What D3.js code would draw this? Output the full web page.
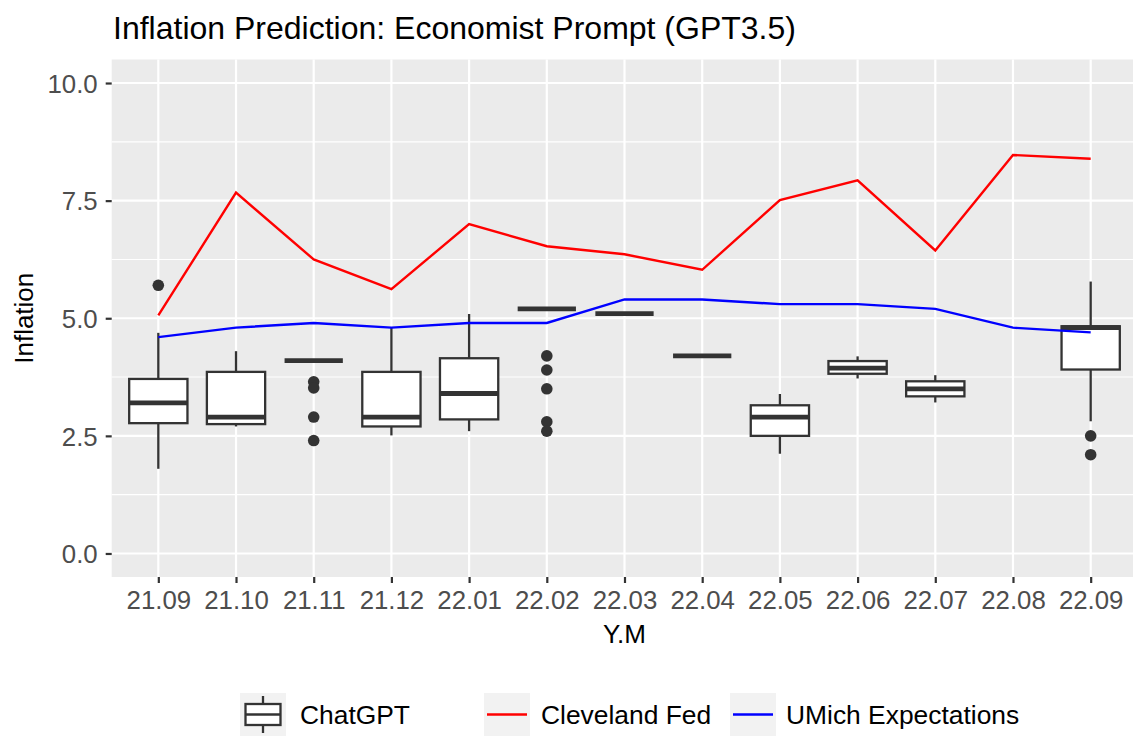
<!DOCTYPE html>
<html>
<head>
<meta charset="utf-8">
<script src="https://cdn.jsdelivr.net/npm/d3@7"></script>
<style>
  body { margin: 0; background: #fff; }
  svg { display: block; font-family: "Liberation Sans", Arial, sans-serif; }
</style>
</head>
<body>
<svg id="chart"></svg>
<script>
// categories (year.month)
const months = ["21.09","21.10","21.11","21.12","22.01","22.02","22.03","22.04","22.05","22.06","22.07","22.08","22.09"]

// ChatGPT boxplot stats per month (null = no data)
const boxLow  = [1.80, 2.70, 4.10, 2.51, 2.60, 5.20, 5.10, 4.20, 2.12, 3.72, 3.21, null, 2.81]
const boxQ1   = [2.77, 2.75, 4.10, 2.70, 2.85, 5.20, 5.10, 4.20, 2.50, 3.82, 3.34, null, 3.91]
const boxMed  = [3.20, 2.90, 4.10, 2.90, 3.40, 5.20, 5.10, 4.20, 2.90, 3.94, 3.50, null, 4.80]
const boxQ3   = [3.71, 3.86, 4.10, 3.86, 4.15, 5.20, 5.10, 4.20, 3.15, 4.09, 3.66, null, 4.83]
const boxHigh = [4.69, 4.30, 4.10, 4.80, 5.09, 5.20, 5.10, 4.20, 3.39, 4.19, 3.79, null, 5.78]
const outliers = [[5.7], [], [3.65, 3.52, 2.9, 2.4], [], [], [4.2, 3.9, 3.5, 2.8, 2.6], [], [], [], [], [], [], [2.5, 2.1]]

// comparison series
const clevelandFed = [5.06, 7.67, 6.25, 5.62, 7.0, 6.53, 6.36, 6.03, 7.51, 7.93, 6.44, 8.47, 8.39]
const umich = [4.6, 4.8, 4.9, 4.8, 4.9, 4.9, 5.4, 5.4, 5.3, 5.3, 5.2, 4.8, 4.7]

const yTicks = [0, 2.5, 5, 7.5, 10]
const yMinor = [1.25, 3.75, 6.25, 8.75]

const w = 1133
const h = 738
const panel = { left: 111.7, right: 1137.3, top: 59.5, bottom: 577 }
const dark = "#333333"

const svg = d3.select("#chart").attr("width", w).attr("height", h)

const x = d3.scalePoint()
  .domain(months)
  .range([panel.left, panel.right])
  .padding(0.6)

const y = d3.scaleLinear()
  .domain([-0.5, 10.5])
  .range([panel.bottom, panel.top])

const step = x.step()
const boxW = step * 0.75

// panel background + grid
svg.append("rect")
  .attr("x", panel.left).attr("y", panel.top)
  .attr("width", panel.right - panel.left).attr("height", panel.bottom - panel.top)
  .attr("fill", "#EBEBEB")

svg.append("g").selectAll("line")
  .data(yMinor).enter().append("line")
  .attr("x1", panel.left).attr("x2", panel.right)
  .attr("y1", d => y(d)).attr("y2", d => y(d))
  .attr("stroke", "#fff").attr("stroke-width", 1.1)

svg.append("g").selectAll("line")
  .data(yTicks).enter().append("line")
  .attr("x1", panel.left).attr("x2", panel.right)
  .attr("y1", d => y(d)).attr("y2", d => y(d))
  .attr("stroke", "#fff").attr("stroke-width", 2.2)

svg.append("g").selectAll("line")
  .data(months).enter().append("line")
  .attr("x1", d => x(d)).attr("x2", d => x(d))
  .attr("y1", panel.top).attr("y2", panel.bottom)
  .attr("stroke", "#fff").attr("stroke-width", 2.2)

// boxplots
const boxes = months.map((m, i) => ({
  m, low: boxLow[i], q1: boxQ1[i], med: boxMed[i], q3: boxQ3[i], high: boxHigh[i], out: outliers[i]
})).filter(d => d.med !== null)

const bg = svg.append("g")

bg.selectAll(".whisker-hi")
  .data(boxes).enter().append("line")
  .attr("x1", d => x(d.m)).attr("x2", d => x(d.m))
  .attr("y1", d => y(d.q3)).attr("y2", d => y(d.high))
  .attr("stroke", dark).attr("stroke-width", 2.3)

bg.selectAll(".whisker-lo")
  .data(boxes).enter().append("line")
  .attr("x1", d => x(d.m)).attr("x2", d => x(d.m))
  .attr("y1", d => y(d.q1)).attr("y2", d => y(d.low))
  .attr("stroke", dark).attr("stroke-width", 2.3)

bg.selectAll("rect")
  .data(boxes).enter().append("rect")
  .attr("x", d => x(d.m) - boxW / 2)
  .attr("y", d => y(d.q3))
  .attr("width", boxW)
  .attr("height", d => y(d.q1) - y(d.q3))
  .attr("fill", "#fff")
  .attr("stroke", dark).attr("stroke-width", 2.3)

bg.selectAll(".median")
  .data(boxes).enter().append("line")
  .attr("x1", d => x(d.m) - boxW / 2).attr("x2", d => x(d.m) + boxW / 2)
  .attr("y1", d => y(d.med)).attr("y2", d => y(d.med))
  .attr("stroke", dark).attr("stroke-width", 4.8)

bg.selectAll("circle")
  .data(boxes.flatMap(d => d.out.map(v => ({ m: d.m, v }))))
  .enter().append("circle")
  .attr("cx", d => x(d.m)).attr("cy", d => y(d.v))
  .attr("r", 5.8)
  .attr("fill", dark)

// lines
const line = d3.line()
  .x((d, i) => x(months[i]))
  .y(d => y(d))

svg.append("path").datum(clevelandFed)
  .attr("d", line).attr("fill", "none")
  .attr("stroke", "#FF0000").attr("stroke-width", 2.4)

svg.append("path").datum(umich)
  .attr("d", line).attr("fill", "none")
  .attr("stroke", "#0000FF").attr("stroke-width", 2.4)

// axes
const xAxis = d3.axisBottom(x).tickSize(6).tickPadding(5)
const yAxis = d3.axisLeft(y).tickValues(yTicks).tickFormat(d3.format(".1f")).tickSize(6).tickPadding(5)

const gx = svg.append("g")
  .attr("transform", `translate(0, ${panel.bottom})`)
  .call(xAxis)
const gy = svg.append("g")
  .attr("transform", `translate(${panel.left}, 0)`)
  .call(yAxis)

for (const g of [gx, gy]) {
  g.select(".domain").remove()
  g.selectAll(".tick line").attr("stroke", dark).attr("stroke-width", 2.2)
  g.selectAll(".tick text")
    .attr("fill", "#4D4D4D")
    .style("font-size", "25.8px")
    .style("font-family", "'Liberation Sans', Arial, sans-serif")
}
gx.selectAll(".tick text").attr("dy", "0.75em").attr("y", 13)
gy.selectAll(".tick text").attr("x", -14).attr("dy", "0.36em")

// titles
svg.append("text")
  .attr("x", 113).attr("y", 39)
  .style("font-size", "32px")
  .attr("fill", "#000")
  .text("Inflation Prediction: Economist Prompt (GPT3.5)")

svg.append("text")
  .attr("x", (panel.left + panel.right) / 2).attr("y", 643)
  .attr("text-anchor", "middle")
  .style("font-size", "26px")
  .text("Y.M")

svg.append("text")
  .attr("transform", `translate(33, ${(panel.top + panel.bottom) / 2}) rotate(-90)`)
  .attr("text-anchor", "middle")
  .style("font-size", "26px")
  .text("Inflation")

// legend
const legendItems = [
  { label: "ChatGPT", kind: "box", keyX: 240, textX: 300 },
  { label: "Cleveland Fed", kind: "line", color: "#FF0000", keyX: 484, textX: 541 },
  { label: "UMich Expectations", kind: "line", color: "#0000FF", keyX: 730, textX: 786 }
]
const keyW = 46, keyH = 43, keyY = 693

const lg = svg.append("g")
legendItems.forEach(item => {
  lg.append("rect")
    .attr("x", item.keyX).attr("y", keyY)
    .attr("width", keyW).attr("height", keyH)
    .attr("fill", "#F2F2F2")
  const cx = item.keyX + keyW / 2
  const cy = keyY + keyH / 2
  if (item.kind === "box") {
    lg.append("line").attr("x1", cx).attr("x2", cx).attr("y1", keyY + 3).attr("y2", keyY + keyH - 3)
      .attr("stroke", dark).attr("stroke-width", 2.3)
    lg.append("rect").attr("x", item.keyX + 5.5).attr("y", cy - 10.5)
      .attr("width", keyW - 11).attr("height", 21)
      .attr("fill", "#fff").attr("stroke", dark).attr("stroke-width", 2.3)
    lg.append("line").attr("x1", item.keyX + 5.5).attr("x2", item.keyX + keyW - 5.5)
      .attr("y1", cy).attr("y2", cy)
      .attr("stroke", dark).attr("stroke-width", 2.3)
  } else {
    lg.append("line").attr("x1", item.keyX + 3).attr("x2", item.keyX + keyW - 3)
      .attr("y1", cy).attr("y2", cy)
      .attr("stroke", item.color).attr("stroke-width", 2.4)
  }
  lg.append("text")
    .attr("x", item.textX).attr("y", cy + 9)
    .style("font-size", "26.4px")
    .text(item.label)
})
</script>
</body>
</html>
